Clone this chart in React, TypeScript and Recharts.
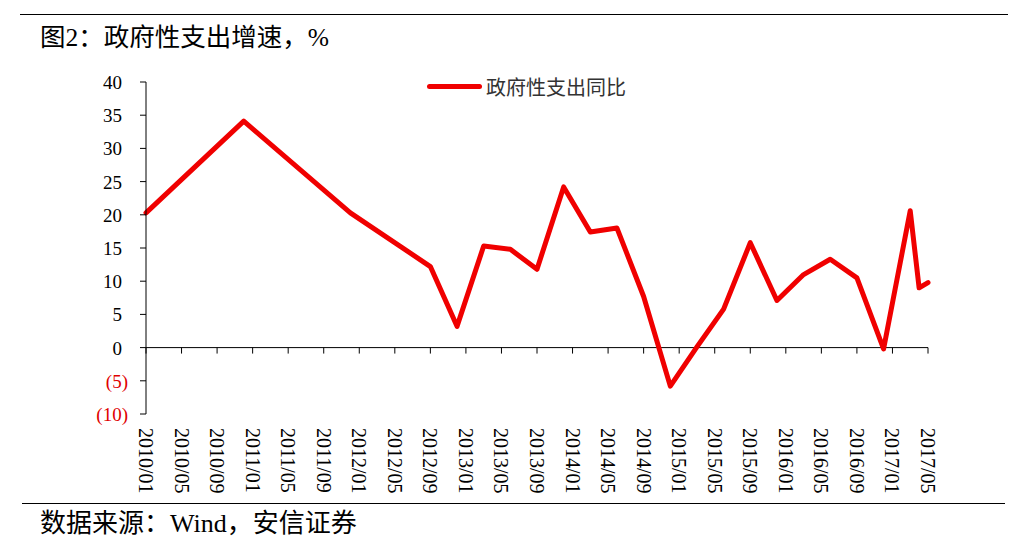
import React from 'react'
import { LineChart, Line, XAxis, YAxis, ReferenceLine } from 'recharts'

// observation dates and yoy values (%)
const dates = [
  '2010/01', '2010/12', '2011/12', '2012/09', '2012/12', '2013/03', '2013/06', '2013/09',
  '2013/12', '2014/03', '2014/06', '2014/09', '2014/12', '2015/03', '2015/06', '2015/09',
  '2015/12', '2016/03', '2016/06', '2016/09', '2016/12', '2017/03', '2017/04', '2017/05',
]
const values = [
  20.3, 34.1, 20.3, 12.2, 3.2, 15.3, 14.8, 11.8,
  24.2, 17.4, 18.0, 7.7, -5.8, 0.1, 5.8, 15.8,
  7.1, 11.0, 13.3, 10.5, -0.2, 20.6, 9.0, 9.8,
]
const tickLabels = [
  '2010/01', '2010/05', '2010/09', '2011/01', '2011/05', '2011/09', '2012/01', '2012/05',
  '2012/09', '2013/01', '2013/05', '2013/09', '2014/01', '2014/05', '2014/09', '2015/01',
  '2015/05', '2015/09', '2016/01', '2016/05', '2016/09', '2017/01', '2017/05',
]
const yTicks = [-10, -5, 0, 5, 10, 15, 20, 25, 30, 35, 40]

const SERIES_NAME = '政府性支出同比'
const RED = '#f00000'
const SERIF = '"Liberation Serif", "Times New Roman", serif'
const CJK = '"Liberation Serif", "Noto Sans CJK SC", sans-serif'

// month index counted from 2010/01
const toMonth = (s: string) => {
  const [y, m] = s.split('/').map(Number)
  return (y - 2010) * 12 + (m - 1)
}
const monthLabel = (n: number) => {
  const y = 2010 + Math.floor(n / 12)
  const m = (n % 12) + 1
  return `${y}/${m < 10 ? '0' + m : m}`
}

const data = dates.map((d, i) => ({ m: toMonth(d), v: values[i] }))
const xTicks = tickLabels.map(toMonth)

const XTick = ({ x, y, payload }: any) => (
  <text
    transform={`translate(${x - 7}, ${y + 6}) rotate(90)`}
    textAnchor="start"
    fontSize={20}
    fontFamily={SERIF}
    fill="#000"
  >
    {monthLabel(payload.value)}
  </text>
)

const YTick = ({ x, y, payload }: any) => {
  const v = payload.value as number
  const neg = v < 0
  return (
    <text
      x={neg ? x - 10 : x - 16}
      y={y}
      dy={7}
      textAnchor="end"
      fontSize={19}
      fontFamily={SERIF}
      fill={neg ? '#e00000' : '#000'}
    >
      {neg ? `(${-v})` : v}
    </text>
  )
}

export default function App() {
  return (
    <div
      style={{
        position: 'absolute',
        left: 0,
        top: 0,
        width: 1030,
        height: 551,
        background: '#fff',
        overflow: 'hidden',
      }}
    >
      {/* header rule and title */}
      <div style={{ position: 'absolute', left: 20, top: 14, width: 988, height: 1, background: '#000' }} />
      <div
        style={{
          position: 'absolute',
          left: 40,
          top: 22,
          fontFamily: CJK,
          fontSize: 25.5,
          lineHeight: '32px',
          color: '#000',
          whiteSpace: 'nowrap',
        }}
      >
        图2：政府性支出增速，%
      </div>

      <div style={{ position: 'absolute', left: 0, top: 0 }}>
        <LineChart
          width={1030}
          height={551}
          data={data}
          margin={{ top: 82, right: 102, bottom: 77, left: 86 }}
        >
          <XAxis
            dataKey="m"
            type="number"
            domain={[0, 88]}
            ticks={xTicks}
            interval={0}
            axisLine={false}
            tickLine={false}
            height={60}
            tick={<XTick />}
          />
          <YAxis
            type="number"
            domain={[-10, 40]}
            ticks={yTicks}
            interval={0}
            width={60}
            axisLine={{ stroke: '#000', strokeWidth: 1 }}
            tickLine={{ stroke: '#000', strokeWidth: 1 }}
            tickSize={6}
            tick={<YTick />}
          />
          <ReferenceLine y={0} stroke="#000" strokeWidth={1} />
          {xTicks.map((t) => (
            <ReferenceLine
              key={t}
              segment={[
                { x: t, y: 0 },
                { x: t, y: -0.9 },
              ]}
              stroke="#000"
              strokeWidth={1}
            />
          ))}
          <Line
            name={SERIES_NAME}
            type="linear"
            dataKey="v"
            stroke={RED}
            strokeWidth={5}
            strokeLinejoin="round"
            strokeLinecap="round"
            dot={false}
            activeDot={false}
            isAnimationActive={false}
          />
        </LineChart>
      </div>

      {/* legend */}
      <div style={{ position: 'absolute', left: 427, top: 72, display: 'flex', alignItems: 'center', height: 28 }}>
        <span
          style={{
            display: 'inline-block',
            width: 55,
            height: 5,
            borderRadius: 3,
            background: RED,
            marginRight: 4,
          }}
        />
        <span style={{ fontFamily: '"Noto Sans CJK SC", sans-serif', fontSize: 20, color: '#333' }}>
          {SERIES_NAME}
        </span>
      </div>

      {/* footer rule and source */}
      <div style={{ position: 'absolute', left: 22, top: 503, width: 983, height: 1, background: '#000' }} />
      <div
        style={{
          position: 'absolute',
          left: 40,
          top: 508,
          fontFamily: CJK,
          fontSize: 26,
          lineHeight: '32px',
          color: '#000',
          whiteSpace: 'nowrap',
        }}
      >
        数据来源：Wind，安信证券
      </div>
    </div>
  )
}
